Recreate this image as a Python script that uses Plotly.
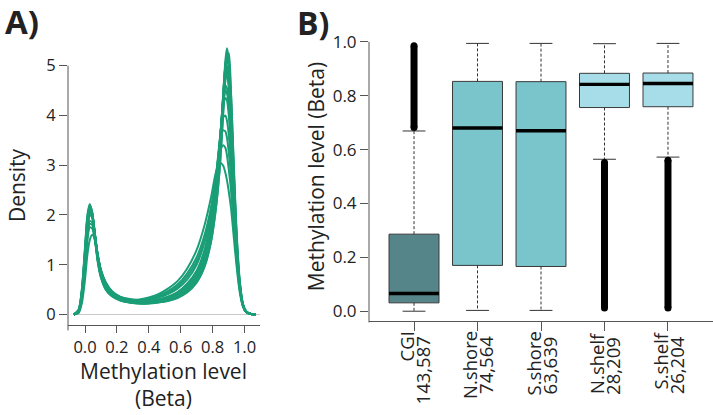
import plotly.graph_objects as go

W, H = 713, 415
FONT = "Open Sans"
GREEN = "#1b9e77"
AXC = "#555555"
TXT = "#222222"

# ---------------- Panel A: density curves ----------------
beta_grid = [-0.07, -0.04, -0.02, 0.0, 0.015, 0.03, 0.045, 0.06, 0.08, 0.10, 0.13, 0.17,
             0.22, 0.28, 0.34, 0.40, 0.46, 0.52, 0.58, 0.64, 0.70, 0.75, 0.79, 0.82,
             0.845, 0.865, 0.88, 0.89, 0.90, 0.915, 0.93, 0.95, 0.97, 0.99, 1.01, 1.04, 1.07]

dens_s01 = [0, 0.08, 0.45, 1.25, 1.9, 2.2, 2.05, 1.65, 1.1, 0.78, 0.52, 0.38, 0.3, 0.25, 0.23, 0.23, 0.25, 0.29, 0.36, 0.48, 0.7, 1.05, 1.6, 2.3, 3.2, 4.3, 5.1, 5.35, 5.15, 4.2, 2.9, 1.4, 0.55, 0.17, 0.05, 0.01, 0]
dens_s02 = [0, 0.07, 0.42, 1.2, 1.88, 2.18, 2.06, 1.68, 1.13, 0.8, 0.54, 0.39, 0.3, 0.25, 0.23, 0.235, 0.26, 0.3, 0.37, 0.5, 0.72, 1.08, 1.65, 2.35, 3.25, 4.3, 5.0, 5.2, 5.05, 4.25, 3.0, 1.5, 0.6, 0.19, 0.05, 0.01, 0]
dens_s03 = [0, 0.07, 0.4, 1.15, 1.82, 2.12, 2.02, 1.66, 1.14, 0.82, 0.56, 0.4, 0.31, 0.26, 0.24, 0.24, 0.27, 0.31, 0.39, 0.53, 0.76, 1.14, 1.72, 2.45, 3.35, 4.35, 4.95, 5.0, 4.8, 3.95, 2.8, 1.4, 0.55, 0.18, 0.05, 0.01, 0]
dens_s04 = [0, 0.06, 0.38, 1.1, 1.78, 2.08, 2.0, 1.66, 1.16, 0.84, 0.58, 0.41, 0.32, 0.26, 0.24, 0.25, 0.28, 0.33, 0.41, 0.56, 0.8, 1.2, 1.8, 2.5, 3.4, 4.3, 4.75, 4.8, 4.6, 3.85, 2.75, 1.45, 0.6, 0.2, 0.06, 0.01, 0]
dens_s05 = [0, 0.06, 0.37, 1.08, 1.75, 2.05, 1.98, 1.66, 1.18, 0.86, 0.6, 0.42, 0.32, 0.27, 0.25, 0.26, 0.29, 0.34, 0.43, 0.58, 0.84, 1.25, 1.85, 2.6, 3.45, 4.25, 4.6, 4.55, 4.3, 3.6, 2.6, 1.4, 0.6, 0.2, 0.06, 0.01, 0]
dens_s06 = [0, 0.05, 0.35, 1.05, 1.7, 2.0, 1.95, 1.65, 1.2, 0.88, 0.62, 0.43, 0.33, 0.27, 0.25, 0.27, 0.3, 0.36, 0.45, 0.62, 0.88, 1.3, 1.9, 2.65, 3.5, 4.15, 4.35, 4.3, 4.05, 3.4, 2.5, 1.35, 0.6, 0.2, 0.06, 0.01, 0]
dens_s07 = [0, 0.05, 0.33, 0.98, 1.6, 1.88, 1.85, 1.6, 1.18, 0.88, 0.63, 0.44, 0.34, 0.28, 0.27, 0.29, 0.34, 0.41, 0.52, 0.7, 1.0, 1.45, 2.05, 2.75, 3.5, 3.95, 4.0, 3.9, 3.65, 3.05, 2.25, 1.25, 0.55, 0.19, 0.06, 0.01, 0]
dens_s08 = [0, 0.05, 0.32, 0.95, 1.55, 1.82, 1.8, 1.57, 1.17, 0.88, 0.63, 0.45, 0.35, 0.29, 0.28, 0.31, 0.36, 0.44, 0.56, 0.76, 1.07, 1.5, 2.1, 2.75, 3.4, 3.7, 3.68, 3.55, 3.3, 2.8, 2.1, 1.2, 0.55, 0.19, 0.06, 0.01, 0]
dens_s09 = [0, 0.05, 0.3, 0.9, 1.5, 1.75, 1.73, 1.52, 1.15, 0.87, 0.63, 0.45, 0.35, 0.3, 0.29, 0.32, 0.38, 0.47, 0.6, 0.82, 1.15, 1.6, 2.15, 2.75, 3.25, 3.4, 3.35, 3.2, 2.95, 2.5, 1.9, 1.1, 0.5, 0.18, 0.05, 0.01, 0]
dens_s10 = [0, 0.03, 0.22, 0.7, 1.2, 1.5, 1.6, 1.52, 1.2, 0.9, 0.65, 0.47, 0.36, 0.31, 0.3, 0.34, 0.41, 0.52, 0.67, 0.92, 1.3, 1.8, 2.35, 2.85, 3.05, 3.0, 2.85, 2.7, 2.5, 2.15, 1.65, 0.98, 0.45, 0.16, 0.05, 0.01, 0]
dens_s11 = [0, 0.1, 0.5, 1.35, 2.0, 2.22, 2.0, 1.58, 1.05, 0.74, 0.5, 0.36, 0.28, 0.24, 0.22, 0.22, 0.24, 0.27, 0.33, 0.44, 0.64, 0.96, 1.45, 2.1, 2.95, 4.0, 4.85, 5.25, 5.25, 4.5, 3.2, 1.6, 0.65, 0.2, 0.06, 0.01, 0]
dens_s12 = [0, 0.08, 0.46, 1.28, 1.92, 2.15, 2.02, 1.62, 1.1, 0.77, 0.52, 0.37, 0.29, 0.24, 0.22, 0.225, 0.245, 0.28, 0.34, 0.46, 0.66, 0.98, 1.48, 2.12, 2.95, 3.95, 4.75, 5.05, 5.1, 4.45, 3.25, 1.7, 0.7, 0.22, 0.06, 0.01, 0]
dens_s13 = [0, 0.07, 0.42, 1.18, 1.85, 2.1, 2.0, 1.64, 1.12, 0.79, 0.53, 0.38, 0.3, 0.25, 0.23, 0.23, 0.255, 0.295, 0.37, 0.5, 0.72, 1.08, 1.6, 2.3, 3.15, 4.1, 4.7, 4.9, 4.8, 4.15, 3.05, 1.6, 0.65, 0.21, 0.06, 0.01, 0]
dens_s14 = [0, 0.09, 0.48, 1.3, 1.95, 2.2, 2.04, 1.62, 1.08, 0.76, 0.51, 0.37, 0.29, 0.245, 0.225, 0.228, 0.25, 0.285, 0.35, 0.47, 0.68, 1.02, 1.55, 2.25, 3.15, 4.25, 5.0, 5.25, 5.1, 4.3, 3.0, 1.5, 0.6, 0.19, 0.05, 0.01, 0]
dens_s15 = [0, 0.06, 0.39, 1.12, 1.8, 2.1, 2.01, 1.67, 1.15, 0.83, 0.57, 0.41, 0.31, 0.26, 0.24, 0.245, 0.275, 0.32, 0.4, 0.55, 0.78, 1.17, 1.76, 2.48, 3.38, 4.35, 4.85, 4.9, 4.7, 3.9, 2.8, 1.45, 0.58, 0.19, 0.05, 0.01, 0]
dens_s16 = [0, 0.06, 0.36, 1.06, 1.72, 2.02, 1.97, 1.66, 1.19, 0.87, 0.61, 0.43, 0.33, 0.27, 0.25, 0.265, 0.3, 0.35, 0.44, 0.6, 0.86, 1.28, 1.88, 2.62, 3.48, 4.2, 4.5, 4.45, 4.2, 3.5, 2.55, 1.38, 0.6, 0.2, 0.06, 0.01, 0]

density_curves = [dens_s10, dens_s09, dens_s08, dens_s07, dens_s06, dens_s16, dens_s05, dens_s04,
                  dens_s15, dens_s13, dens_s03, dens_s12, dens_s02, dens_s14, dens_s11, dens_s01]

a_xticks = [0.0, 0.2, 0.4, 0.6, 0.8, 1.0]
a_yticks = [0, 1, 2, 3, 4, 5]

# ---------------- Panel B: box plot summaries ----------------
regions = ["CGI", "N.shore", "S.shore", "N.shelf", "S.shelf"]
region_counts = ["143,587", "74,564", "63,639", "28,209", "26,204"]
q1 = [0.031, 0.170, 0.166, 0.756, 0.759]
median = [0.066, 0.680, 0.670, 0.842, 0.845]
q3 = [0.286, 0.853, 0.852, 0.883, 0.884]
whisker_lo = [0.000, 0.003, 0.003, 0.564, 0.572]
whisker_hi = [0.669, 0.994, 0.994, 0.993, 0.994]
outlier_lo = [0.682, None, None, 0.012, 0.012]
outlier_hi = [0.985, None, None, 0.552, 0.560]
box_colors = ["#558489", "#7ac4cc", "#7ac4cc", "#a7dde9", "#a7dde9"]
b_yticks = [0.0, 0.2, 0.4, 0.6, 0.8, 1.0]

# ---------------- layout geometry (pixels) ----------------
A_X0, A_X1, A_YB, A_YT = 68, 260, 326, 45
A_XR = [-0.1066, 1.0972]
A_YR = [-0.22, 5.4]
B_X0, B_X1, B_YB, B_YT = 369, 713, 322, 30
B_XR = [0.291, 5.709]
B_YR = [-0.038, 1.0406]

def px(p):
    return p / W

def py(p):
    return 1 - p / H

def a_ypaper(v):
    return py(A_YB) + (v - A_YR[0]) / (A_YR[1] - A_YR[0]) * (py(A_YT) - py(A_YB))

def b_ypaper(v):
    return py(B_YB) + (v - B_YR[0]) / (B_YR[1] - B_YR[0]) * (py(B_YT) - py(B_YB))

fig = go.Figure()

for c in density_curves:
    fig.add_trace(go.Scatter(x=beta_grid, y=c, mode="lines",
                             line=dict(color=GREEN, width=2.0, shape="spline", smoothing=0.7),
                             xaxis="x", yaxis="y", hoverinfo="skip", showlegend=False))

positions = list(range(1, len(regions) + 1))
BOXW = 0.787
CAPW = 0.36

for i, pos in enumerate(positions):
    fig.add_trace(go.Scatter(x=[pos, pos, None, pos, pos],
                             y=[q3[i], whisker_hi[i], None, q1[i], whisker_lo[i]],
                             mode="lines", line=dict(color="#333333", width=1, dash="3px,2px"),
                             xaxis="x2", yaxis="y2", hoverinfo="skip", showlegend=False))
    fig.add_trace(go.Scatter(x=[pos - CAPW / 2, pos + CAPW / 2, None, pos - CAPW / 2, pos + CAPW / 2],
                             y=[whisker_hi[i], whisker_hi[i], None, whisker_lo[i], whisker_lo[i]],
                             mode="lines", line=dict(color="#333333", width=1),
                             xaxis="x2", yaxis="y2", hoverinfo="skip", showlegend=False))
    fig.add_trace(go.Box(x=[pos], q1=[q1[i]], median=[median[i]], q3=[q3[i]],
                         lowerfence=[q1[i]], upperfence=[q3[i]], width=BOXW, whiskerwidth=0,
                         fillcolor=box_colors[i], line=dict(color="#3a3a3a", width=1),
                         boxpoints=False, xaxis="x2", yaxis="y2", hoverinfo="skip", showlegend=False))
    fig.add_trace(go.Scatter(x=[pos - BOXW / 2, pos + BOXW / 2], y=[median[i], median[i]],
                             mode="lines", line=dict(color="black", width=3.4),
                             xaxis="x2", yaxis="y2", hoverinfo="skip", showlegend=False))
    if outlier_lo[i] is not None:
        fig.add_trace(go.Scatter(x=[pos, pos], y=[outlier_lo[i], outlier_hi[i]],
                                 mode="lines+markers", line=dict(color="black", width=7),
                                 marker=dict(color="black", size=7),
                                 xaxis="x2", yaxis="y2", hoverinfo="skip", showlegend=False))

tickfont = dict(family=FONT, size=16.5, color=TXT)

fig.update_layout(
    width=W, height=H, margin=dict(l=0, r=0, t=0, b=0),
    paper_bgcolor="white", plot_bgcolor="white",
    font=dict(family=FONT, color=TXT),
    showlegend=False,
    xaxis=dict(domain=[px(A_X0), px(A_X1)], range=A_XR, showgrid=False, zeroline=False,
               showline=True, linecolor=AXC, linewidth=1, ticks="outside", ticklen=7,
               tickcolor=AXC, tickvals=a_xticks, ticktext=[f"{v:.1f}" for v in a_xticks],
               tickfont=tickfont, anchor="y"),
    yaxis=dict(domain=[py(A_YB), py(A_YT)], range=A_YR, showgrid=False, zeroline=False,
               showline=False, ticks="outside", ticklen=8, tickcolor=AXC,
               tickvals=a_yticks, ticktext=[str(v) for v in a_yticks],
               tickfont=tickfont, anchor="x"),
    xaxis2=dict(domain=[px(B_X0), px(B_X1)], range=B_XR, showgrid=False, zeroline=False,
                showline=True, linecolor=AXC, linewidth=1, ticks="outside", ticklen=9,
                tickcolor=AXC, tickvals=positions, showticklabels=False, anchor="y2"),
    yaxis2=dict(domain=[py(B_YB), py(B_YT)], range=B_YR, showgrid=False, zeroline=False,
                showline=False, ticks="outside", ticklen=8, tickcolor=AXC,
                tickvals=b_yticks, ticktext=[f"{v:.1f}" for v in b_yticks],
                tickfont=dict(family=FONT, size=17, color=TXT), anchor="x2"),
)

shapes = [
    dict(type="line", xref="x", yref="y", x0=-0.075, x1=A_XR[1], y0=0, y1=0,
         line=dict(color="#c8c8c8", width=1), layer="below"),
    dict(type="line", xref="paper", yref="paper", x0=px(A_X0), x1=px(A_X0),
         y0=py(A_YB + 5), y1=a_ypaper(a_yticks[-1]), line=dict(color=AXC, width=1)),
    dict(type="line", xref="paper", yref="paper", x0=px(B_X0), x1=px(B_X0),
         y0=py(B_YB + 1), y1=b_ypaper(b_yticks[-1]), line=dict(color=AXC, width=1)),
]
fig.update_layout(shapes=shapes)

ann = []
ann.append(dict(text="<b>A)</b>", x=px(3), y=py(21), xref="paper", yref="paper",
                xanchor="left", yanchor="middle", showarrow=False,
                font=dict(family=FONT, size=33, color=TXT)))
ann.append(dict(text="<b>B)</b>", x=px(295), y=py(22), xref="paper", yref="paper",
                xanchor="left", yanchor="middle", showarrow=False,
                font=dict(family=FONT, size=32, color=TXT)))
ann.append(dict(text="Density", x=px(17), y=py(185), xref="paper", yref="paper",
                textangle=-90, xanchor="center", yanchor="middle", showarrow=False,
                font=dict(family=FONT, size=21, color=TXT)))
ann.append(dict(text="Methylation level<br>(Beta)", x=px(163), y=py(385), xref="paper", yref="paper",
                xanchor="center", yanchor="middle", showarrow=False, align="center",
                font=dict(family=FONT, size=21, color=TXT)))
ann.append(dict(text="Methylation level (Beta)", x=px(316), y=py(177), xref="paper", yref="paper",
                textangle=-90, xanchor="center", yanchor="middle", showarrow=False,
                font=dict(family=FONT, size=21, color=TXT)))
for i, pos in enumerate(positions):
    ann.append(dict(text=regions[i], x=pos, y=py(330), xref="x2", yref="paper",
                    textangle=-90, xanchor="center", yanchor="top", xshift=-8, showarrow=False,
                    font=dict(family=FONT, size=18.5, color=TXT)))
    ann.append(dict(text=region_counts[i], x=pos, y=py(335), xref="x2", yref="paper",
                    textangle=-90, xanchor="center", yanchor="top", xshift=8, showarrow=False,
                    font=dict(family=FONT, size=18.5, color=TXT)))
fig.update_layout(annotations=ann)

fig.write_html("out.html", config={"displayModeBar": False},
               post_script="document.body.style.margin='0';")
